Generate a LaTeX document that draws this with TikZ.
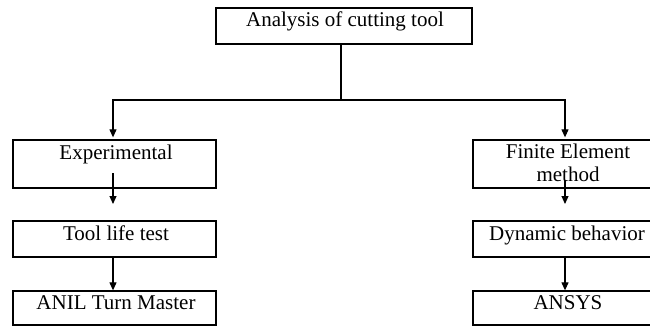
\documentclass[tikz,border=0pt]{standalone}
\usepackage{fontspec}
\setmainfont{Liberation Serif}
\usetikzlibrary{arrows.meta}
\begin{document}
\begin{tikzpicture}[x=1pt,y=-1pt,
  box/.style={draw, line width=1.3pt, inner sep=0pt},
  lbl/.style={font=\fontsize{21}{23}\selectfont, inner sep=0pt, anchor=base},
  ln/.style={line width=1.1pt},
  arr/.style={line width=1.1pt, -{Triangle[length=8pt,width=7pt]}}]
\useasboundingbox (0,0) rectangle (650,326);
\clip (0,0) rectangle (650,326);
% boxes
\node[box, minimum width=256pt, minimum height=36pt] (top) at (344,26) {};
\node[box, minimum width=203pt, minimum height=48pt] (exp) at (114.5,164) {};
\node[box, minimum width=203pt, minimum height=36pt] (tool) at (114.5,239) {};
\node[box, minimum width=203pt, minimum height=34pt] (anil) at (114.5,308) {};
\node[box, minimum width=187pt, minimum height=48pt] (fem) at (566.5,164) {};
\node[box, minimum width=187pt, minimum height=36pt] (dyn) at (566.5,239) {};
\node[box, minimum width=187pt, minimum height=34pt] (ansys) at (566.5,308) {};
% labels
\node[lbl] (ttop) at (345,27) {Analysis of cutting tool};
\node[lbl] (texp) at (116,159) {Experimental};
\node[lbl] (ttool) at (116,240) {Tool life test};
\node[lbl] (tanil) at (116,309) {ANIL Turn Master};
\node[lbl] (tfem1) at (568,158) {Finite Element};
\node[lbl] (tfem2) at (568,181) {method};
\node[lbl] (tdyn) at (567,240) {Dynamic behavior};
\node[lbl] (tansys) at (568,309) {ANSYS};
% junctions
\coordinate (j) at (341,100);
\coordinate (jl) at (113,100);
\coordinate (jr) at (565,100);
\coordinate (la) at (113,173);
\coordinate (lb) at (113,204);
\coordinate (ra) at (565,180);
\coordinate (rb) at (565,204);
% connectors
\draw[ln] (top.south -| j) -- (j);
\draw[arr, shorten >=2pt] (j) -- (jl) -- (exp.north -| jl);
\draw[arr, shorten >=2pt] (j) -- (jr) -- (fem.north -| jr);
\draw[arr] (la) -- (lb);
\draw[arr] (ra) -- (rb);
\draw[arr] (tool.south -| jl) -- (anil.north -| jl);
\draw[arr] (dyn.south -| jr) -- (ansys.north -| jr);
\end{tikzpicture}
\end{document}
